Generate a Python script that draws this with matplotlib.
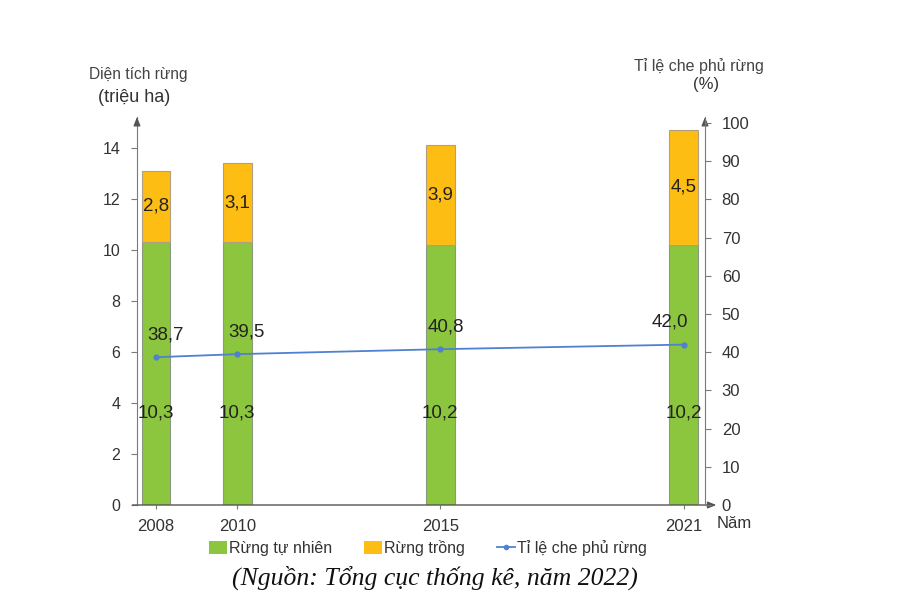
import matplotlib
matplotlib.use("Agg")
import matplotlib.pyplot as plt
from matplotlib.patches import Patch
from matplotlib.lines import Line2D

years = [2008, 2010, 2015, 2021]
natural = [10.3, 10.3, 10.2, 10.2]
planted = [2.8, 3.1, 3.9, 4.5]
coverage = [38.7, 39.5, 40.8, 42.0]
left_ticks = [0, 2, 4, 6, 8, 10, 12, 14]
right_ticks = [0, 10, 20, 30, 40, 50, 60, 70, 80, 90, 100]

GREEN = "#8cc63e"
ORANGE = "#fdbd12"
BLUE = "#4f81d0"
AXC = "#7a7a7a"
TXT = "#333333"

plt.rcParams['font.family'] = ['Liberation Sans', 'DejaVu Sans']

fig = plt.figure(figsize=(9.03, 5.99), dpi=100)
ax = fig.add_axes([137/903, 1-505/599, (705-137)/903, (505-117)/599])
ax2 = ax.twinx()

bw = 0.71
ax.bar(years, natural, width=bw, color=GREEN, edgecolor="#8a9a80", linewidth=0.8, zorder=2)
ax.bar(years, planted, bottom=natural, width=bw, color=ORANGE, edgecolor="#b0a080", linewidth=0.8, zorder=2)

for x, n, p in zip(years, natural, planted):
    ax.text(x, n + p / 2, f"{p:.1f}".replace(".", ","), ha="center", va="center",
            fontsize=13.5, color="#222222", zorder=5)
    ax.text(x, 3.6, f"{n:.1f}".replace(".", ","), ha="center", va="center",
            fontsize=13.5, color="#222222", zorder=5)

ax2.plot(years, coverage, color=BLUE, linewidth=1.3, marker="o", markersize=3.5, zorder=4)
dxs = [7, 7, 4, -10]
for x, c, dx in zip(years, coverage, dxs):
    ax2.annotate(f"{c:.1f}".replace(".", ","), (x, c), xytext=(dx, 16),
                 textcoords="offset points", ha="center", va="center",
                 fontsize=13.5, color="#222222")

ax.set_xlim(2007.53, 2021.52)
ax.set_ylim(0, 15.2)
ax2.set_ylim(0, 101.6)

ax.set_xticks(years)
ax.set_xticklabels([str(y) for y in years])
ax.set_yticks(left_ticks)
ax2.set_yticks(right_ticks)

for a in (ax, ax2):
    for s in a.spines.values():
        s.set_visible(False)
ax.spines['left'].set_visible(True)
ax.spines['left'].set_color(AXC)
ax2.spines['right'].set_visible(True)
ax2.spines['right'].set_color(AXC)

ax.tick_params(axis='y', colors=AXC, labelcolor=TXT, labelsize=11.5, length=4, pad=8)
ax.tick_params(axis='x', colors=AXC, labelcolor=TXT, labelsize=12, length=3, pad=7)
ax2.tick_params(axis='y', colors=AXC, labelcolor=TXT, labelsize=12, length=4, pad=8)

# axes with arrows
arrow = dict(arrowstyle="-|>,head_length=0.5,head_width=0.2", color="#555555", lw=1.0,
             shrinkA=0, shrinkB=0)
ax.annotate("", xy=(1.02, 0), xytext=(-0.008, 0), xycoords="axes fraction", arrowprops=arrow)
ax.annotate("", xy=(0, 1.0), xytext=(0, 0.99), xycoords="axes fraction", arrowprops=arrow)
ax.annotate("", xy=(1, 1.0), xytext=(1, 0.99), xycoords="axes fraction", arrowprops=arrow)

fig.text(138/903, 1-74/599, "Diện tích rừng", ha="center", va="center", fontsize=11.2, color="#444444")
fig.text(134/903, 1-97/599, "(triệu ha)", ha="center", va="center", fontsize=13, color="#333333")
fig.text(699/903, 1-66/599, "Tỉ lệ che phủ rừng", ha="center", va="center", fontsize=11.5, color="#444444")
fig.text(706/903, 1-84/599, "(%)", ha="center", va="center", fontsize=12, color="#333333")
fig.text(734/903, 1-524/599, "Năm", ha="center", va="center", fontsize=12, color="#333333")

handles = [Patch(facecolor=GREEN, edgecolor="none"),
           Patch(facecolor=ORANGE, edgecolor="none"),
           Line2D([0], [0], color=BLUE, marker="o", markersize=3, lw=1.3)]
labels = ["Rừng tự nhiên", "Rừng trồng", "Tỉ lệ che phủ rừng"]
leg = fig.legend(handles, labels, loc="center", bbox_to_anchor=(428/903, 1-548/599), ncol=3,
                 frameon=False, fontsize=11.5, handlelength=1.1, handleheight=0.8,
                 handletextpad=0.15, columnspacing=2.0)
for t in leg.get_texts():
    t.set_color("#333333")

fig.text(435/903, 1-578/599, "(Nguồn: Tổng cục thống kê, năm 2022)", ha="center", va="center",
         fontsize=18.5, style="italic", family=["Liberation Serif", "DejaVu Serif"], color="#111111")

fig.savefig("out.png", dpi=100, facecolor="white")
